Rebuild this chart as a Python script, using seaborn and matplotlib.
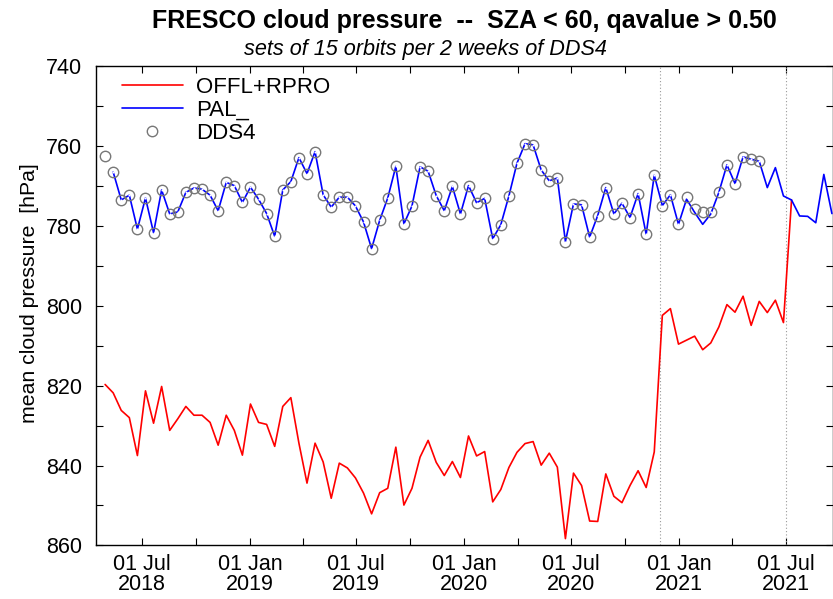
import numpy as np
import pandas as pd
import seaborn as sns
import matplotlib
matplotlib.use("Agg")
from matplotlib import pyplot as plt
import matplotlib.dates as mdates
from matplotlib.ticker import MultipleLocator

# biweekly sets (15 orbits each)
dates = pd.date_range("2018-04-29 12:00", periods=91, freq="330h")

offl_rpro = [
    819.7, 821.8, 826.2, 828.0, 837.5, 821.3, 829.4, 820.2, 831.2, 828.3,
    825.2, 827.4, 827.4, 829.2, 834.9, 827.4, 831.2, 837.4, 824.6, 829.2,
    829.7, 835.2, 825.2, 823.0, 834.4, 844.4, 834.4, 839.1, 848.2, 839.4,
    840.6, 843.1, 846.9, 852.1, 846.8, 845.7, 835.4, 849.9, 845.7, 837.9,
    833.7, 839.2, 842.5, 839.0, 843.0, 832.6, 837.6, 836.5, 849.1, 846.0,
    840.5, 836.7, 834.5, 834.0, 839.9, 836.9, 840.4, 858.3, 841.9, 845.0,
    853.9, 854.0, 842.1, 847.7, 849.3, 845.0, 841.3, 845.5, 836.6, 802.4,
    800.7, 809.6, 808.6, 807.6, 811.0, 809.3, 805.3, 799.7, 801.6, 797.6,
    804.9, 798.9, 801.7, 798.6, 804.2, 773.5,
]

# PAL_ starts one set later than OFFL+RPRO
pal = [
    766.5, 773.5, 772.3, 780.8, 773.0, 781.7, 771.0, 777.0, 776.5, 771.6,
    770.5, 770.8, 772.3, 776.2, 769.1, 769.9, 774.1, 770.3, 773.3, 776.9,
    782.6, 771.0, 768.9, 762.9, 766.9, 761.4, 772.2, 775.3, 772.8, 772.8,
    775.0, 779.0, 785.7, 778.6, 773.0, 765.1, 779.5, 775.0, 765.2, 766.3,
    772.4, 776.2, 770.1, 777.0, 769.9, 774.2, 773.1, 783.2, 779.7, 772.5,
    764.3, 759.4, 759.7, 766.0, 768.7, 768.0, 783.9, 774.5, 774.7, 782.8,
    777.4, 770.4, 777.0, 774.3, 777.9, 771.9, 782.1, 767.3, 774.9, 772.2,
    779.6, 773.3, 776.6, 779.6, 777.0, 771.6, 764.7, 769.4, 762.7, 763.3,
    763.8, 770.4, 765.4, 772.5, 773.5, 777.5, 777.6, 779.2, 767.1, 776.9,
]

dds4 = [
    762.4, 766.5, 773.5, 772.3, 780.8, 773.0, 781.7, 771.0, 777.0, 776.5,
    771.6, 770.5, 770.8, 772.3, 776.2, 769.1, 769.9, 774.1, 770.3, 773.3,
    776.9, 782.6, 771.0, 768.9, 762.9, 766.9, 761.4, 772.2, 775.3, 772.8,
    772.8, 775.0, 779.0, 785.7, 778.6, 773.0, 765.1, 779.5, 775.0, 765.2,
    766.3, 772.4, 776.2, 770.1, 777.0, 769.9, 774.2, 773.1, 783.2, 779.7,
    772.5, 764.3, 759.4, 759.7, 766.0, 768.7, 768.0, 783.9, 774.5, 774.7,
    782.8, 777.4, 770.4, 777.0, 774.3, 777.9, 771.9, 782.1, 767.3, 774.9,
    772.2, 779.6, 772.7, 775.7, 776.6, 776.5, 771.6, 764.7, 769.4, 762.7,
    763.3, 763.8,
]

processor_changes = ["2020-11-29", "2021-07-01"]

sns.set_style("ticks")
plt.rcParams["font.family"] = ["Liberation Sans", "DejaVu Sans"]
for key in ["text.color", "axes.labelcolor", "xtick.color", "ytick.color"]:
    plt.rcParams[key] = "black"

fig = plt.figure(figsize=(8.33, 5.99), dpi=100)
ax = fig.add_axes([96 / 833, 53.6 / 599, 736.5 / 833, 479.2 / 599])

for d in processor_changes:
    ax.axvline(pd.Timestamp(d), color="#999999", lw=0.8, ls=(0, (1, 2)), zorder=1)

sns.lineplot(x=dates[:len(offl_rpro)], y=offl_rpro, ax=ax, color="#ff0000",
             lw=1.2, estimator=None, label="OFFL+RPRO", zorder=3)
sns.lineplot(x=dates[1:1 + len(pal)], y=pal, ax=ax, color="#0000ff",
             lw=1.2, estimator=None, label="PAL_", zorder=4)
sns.lineplot(x=dates[:len(dds4)], y=dds4, ax=ax, estimator=None, ls="none",
             marker="o", ms=7.5, mfc="none", mec="#777777", mew=1.0,
             label="DDS4", zorder=5)
sns.lineplot(x=dates[:len(dds4)], y=dds4, ax=ax, estimator=None, ls="none",
             marker=".", ms=1.5, color="#555555", zorder=5)

ax.set_ylim(860, 740)
ax.set_xlim(pd.Timestamp("2018-04-14"), pd.Timestamp("2021-09-19"))

ax.yaxis.set_major_locator(MultipleLocator(20))
ax.yaxis.set_minor_locator(MultipleLocator(10))
ax.xaxis.set_major_locator(mdates.MonthLocator(bymonth=[1, 7]))
ax.xaxis.set_minor_locator(mdates.MonthLocator(bymonth=[4, 10]))
ax.xaxis.set_major_formatter(mdates.DateFormatter("%d %b\n%Y"))

ax.tick_params(which="both", direction="in", top=True, right=True,
               length=5, width=0.8, color="black")
ax.tick_params(axis="y", labelsize=15.5, pad=10)
ax.tick_params(axis="x", labelsize=15.5, pad=6)
for lbl in ax.get_xticklabels():
    lbl.set_linespacing(0.95)
for s in ax.spines.values():
    s.set_linewidth(1.0)
    s.set_color("black")

ax.set_xlabel("")
ax.set_ylabel("mean cloud pressure  [hPa]", fontsize=15.3)
ax.yaxis.set_label_coords(-0.0774, 0.527)

fig.text(0.558, 0.965, "FRESCO cloud pressure  --  SZA < 60, qavalue > 0.50",
         ha="center", va="center", fontsize=18, fontweight="bold")
fig.text(0.511, 0.918, "sets of 15 orbits per 2 weeks of DDS4",
         ha="center", va="center", fontsize=15.6, style="italic")

handles, labels = ax.get_legend_handles_labels()
ax.legend(handles[:3], labels[:3], loc="upper left", frameon=False,
          bbox_to_anchor=(0.035, 0.978), borderaxespad=0, borderpad=0,
          fontsize=16, handlelength=2.75, handletextpad=0.6,
          labelspacing=0.1)

fig.savefig("out.png", dpi=100)
